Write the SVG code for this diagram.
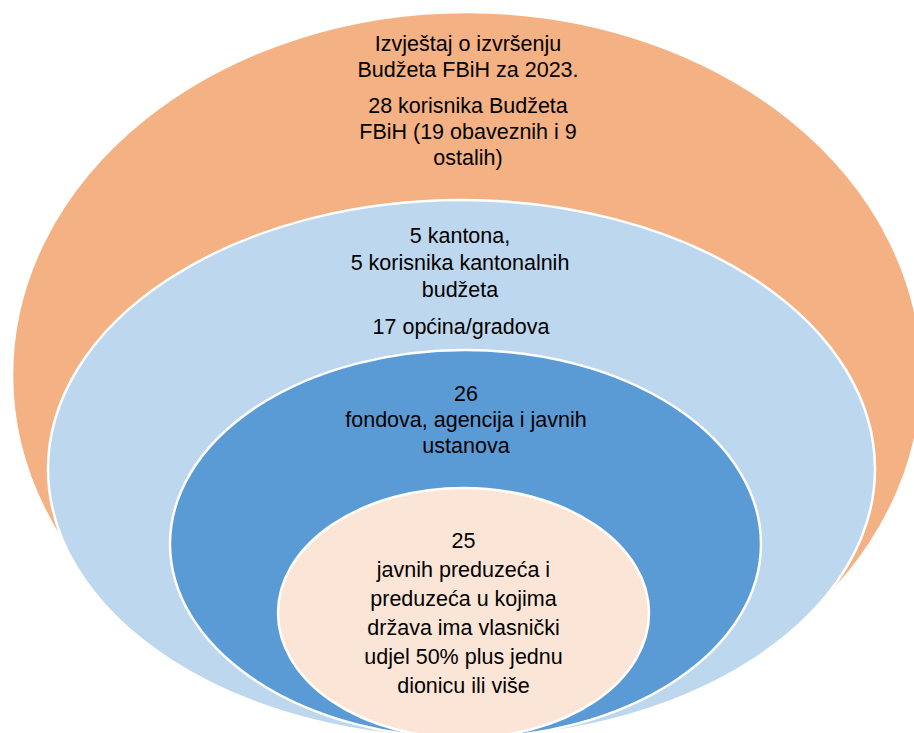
<svg xmlns="http://www.w3.org/2000/svg" width="914" height="733" viewBox="0 0 914 733">
<style>
.sh{stroke:#FFFFFF;stroke-width:2.5}
.t{font-family:"Liberation Sans",Arial,sans-serif;font-size:21.5px;fill:#000000;text-anchor:middle}
</style>
<rect x="0" y="0" width="914" height="733" fill="#FFFFFF"/>
<g id="outer">
<ellipse class="sh" cx="467" cy="375" rx="455" ry="363" fill="#F4B183"/>
<text class="t" x="468" y="51">Izvještaj o izvršenju</text>
<text class="t" x="468" y="77">Budžeta FBiH za 2023.</text>
<text class="t" x="468" y="113">28 korisnika Budžeta</text>
<text class="t" x="468" y="139">FBiH (19 obaveznih i 9</text>
<text class="t" x="468" y="165">ostalih)</text>
</g>
<g id="cantons">
<ellipse class="sh" cx="461.5" cy="469" rx="413.5" ry="269" fill="#BDD7EE"/>
<text class="t" x="460" y="243">5 kantona,</text>
<text class="t" x="460" y="270">5 korisnika kantonalnih</text>
<text class="t" x="460" y="297">budžeta</text>
<text class="t" x="461" y="334">17 općina/gradova</text>
</g>
<g id="funds">
<ellipse class="sh" cx="465.5" cy="544" rx="295.5" ry="194" fill="#5B9BD5"/>
<text class="t" x="466" y="401">26</text>
<text class="t" x="466" y="427">fondova, agencija i javnih</text>
<text class="t" x="466" y="453">ustanova</text>
</g>
<g id="enterprises">
<ellipse class="sh" cx="463.5" cy="613" rx="185.5" ry="125" fill="#FBE5D6"/>
<text class="t" x="463.5" y="548">25</text>
<text class="t" x="463.5" y="577">javnih preduzeća i</text>
<text class="t" x="463.5" y="606">preduzeća u kojima</text>
<text class="t" x="463.5" y="635">država ima vlasnički</text>
<text class="t" x="463.5" y="664">udjel 50% plus jednu</text>
<text class="t" x="463.5" y="693">dionicu ili više</text>
</g>
<g id="connectors"/>
</svg>
